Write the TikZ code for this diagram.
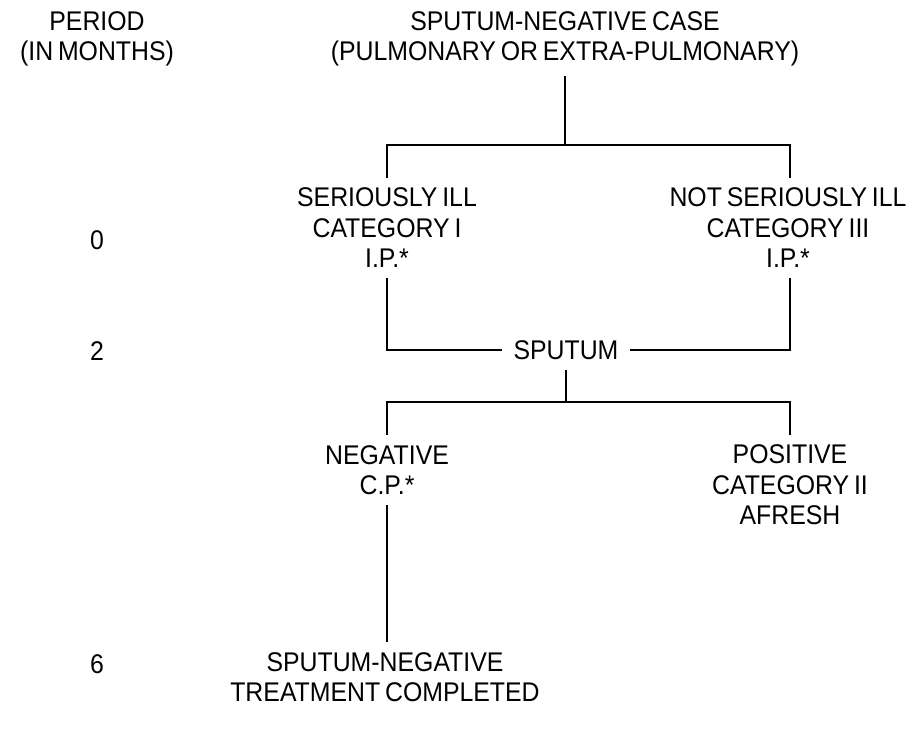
\documentclass[tikz,border=0pt]{standalone}
\usepackage{fontspec}
\setmainfont{Liberation Sans}[FakeStretch=0.92, WordSpace=0.7]
\begin{document}
\begin{tikzpicture}[x=1pt,y=-1pt,
  lbl/.style={align=center, font=\fontsize{27}{30.5}\selectfont, inner sep=0pt},
  box/.style={lbl, outer xsep=12pt, outer ysep=10pt},
  link/.style={line width=1.8pt}]
\useasboundingbox (0,0) rectangle (913,737);

% period column
\node[lbl] (period) at (97,39) {PERIOD\\(IN MONTHS)};
\node[lbl] (m0) at (97,240) {0};
\node[lbl] (m2) at (97,351) {2};
\node[lbl] (m6) at (97,664) {6};

% tree nodes
\node[box] (title) at (565,39) {SPUTUM-NEGATIVE CASE\\(PULMONARY OR EXTRA-PULMONARY)};
\node[box] (sick) at (387,228) {SERIOUSLY ILL\\CATEGORY I\\I.P.*};
\node[box] (notsick) at (788,228) {NOT SERIOUSLY ILL\\CATEGORY III\\I.P.*};
\node[box] (sputum) at (566,350) {SPUTUM};
\node[box] (neg) at (387,470) {NEGATIVE\\C.P.*};
\node[box] (pos) at (790,485) {POSITIVE\\CATEGORY II\\AFRESH};
\node[box] (done) at (385,677) {SPUTUM-NEGATIVE\\TREATMENT COMPLETED};

\coordinate (j1) at (565,145);
\coordinate (j2) at (566,402);

% connectors
\draw[link] (title) -- (j1);
\draw[link] (sick) |- (j1) -| ([xshift=2pt]notsick.north);
\draw[link] (sick) |- (sputum);
\draw[link] ([xshift=2pt]notsick.south) |- (sputum);
\draw[link] (sputum.south) -- (j2);
\draw[link] (neg) |- (j2) -| (pos);
\draw[link] (neg) -- (neg |- done.north);
\end{tikzpicture}
\end{document}
